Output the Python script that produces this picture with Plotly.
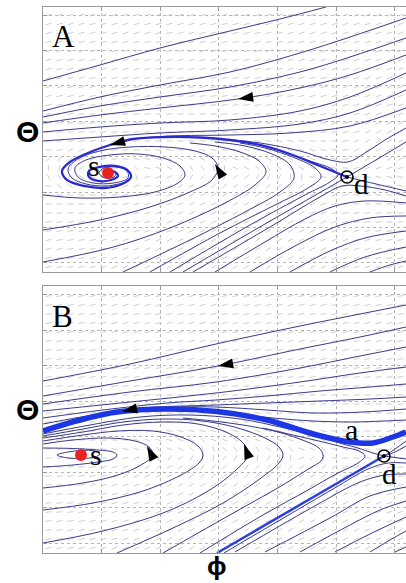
import numpy as np
import plotly.graph_objects as go

# ---------------- Panel A streamlines (phi, theta in plot units) ----------------
A_U1 = [(0,191),(57,207),(117,224),(187,241),(237,253),(283,265)]
A_U2 = [(0,161),(57,175),(117,187),(187,200),(257,219),(307,235),(363,254)]
A_U3 = [(0,155),(57,166),(117,175),(187,185),(257,200),(307,215),(363,234)]
A_U4 = [(0,149),(57,157),(117,164),(195,173),(257,184),(307,197),(363,217)]
A_U5 = [(0,140),(57,145),(117,149),(187,152),(257,161),(307,175),(363,199)]
A_U6 = [(0,131),(57,135),(117,139),(187,142),(257,148),(307,159),(363,182)]
A_U7 = [(87,133),(127,136),(187,137),(247,139),(307,146),(363,164)]
A_U8 = [(363,144),(342,132),(322,119),(305,110),(287,112),(257,121),(217,129),(177,133)]
A_E1 = [(0,42),(57,52),(107,65),(147,80),(169,92),(175,104),(169,114),(152,121),(122,125),
        (87,125),(57,121),(35,113),(25,103),(29,94),(43,88),(63,86),(80,89)]
A_E2 = [(0,77),(37,74),(77,75),(112,80),(135,89),(142,97),(137,106),(120,114),(95,118),(67,117),
        (43,112),(32,104),(35,95),(50,89),(71,89),(85,94),(84,101),(73,105),(61,104),(56,99),
        (62,94),(71,95),(73,98)]
A_V1 = [(0,10),(67,24),(127,44),(182,69),(212,87),(223,100),(216,111),(197,120),(172,126),(147,129)]
A_V2 = [(80,0),(147,32),(202,60),(237,80),(251,94),(247,107),(229,118),(202,126),(172,130)]
A_V3 = [(107,0),(177,39),(232,67),(265,84),(278,95),(272,104),(252,114),(222,124),(197,129)]
A_S3 = [(127,0),(207,47),(262,77),(287,90),(295,97),(289,103),(267,111),(237,121)]
A_S1 = [(140,0),(222,48),(304,95),(363,130)]
A_S2 = [(150,0),(227,45),(277,75),(299,86),(317,86),(342,82),(363,76)]
A_R1 = [(304,95),(333,88),(363,81)]
A_W1 = [(172,0),(222,30),(262,53),(292,66),(322,71),(363,69)]
A_W2 = [(207,0),(252,26),(292,45),(327,54),(363,56)]
A_W3 = [(247,0),(287,21),(322,34),(363,41)]
A_W4 = [(287,0),(322,15),(363,25)]
A_W5 = [(327,0),(347,7),(363,11)]
A_THICK = [(304,95),(277,106),(247,118),(217,127),(187,132),(157,134.5),(123,135),(90,133),(67,127),
           (45,119),(27,110),(19,101),(24,92),(41,86),(62,84),(79,88),(88,95),(84,102),(72,106),
           (57,105),(46,101),(46,95),(55,91),(68,92),(75,96),(72,100),(66,101)]

A_ARROW_X = [195, 67, 172]
A_ARROW_Y = [173, 127, 108]
A_ARROW_ANG = [262, 255, 329]
A_SINK = (65, 99)
A_SADDLE = (304, 95)

# ---------------- Panel B streamlines ----------------
B_BU1 = [(0,172),(87,189),(173,209),(257,227),(317,239),(363,248)]
B_BU2 = [(0,157),(87,172),(175,187),(257,204),(317,216),(363,226)]
B_BU3 = [(0,149),(87,161),(173,171),(257,185),(317,197),(363,206)]
B_BU4 = [(0,142),(87,151),(173,160),(257,171),(317,180),(363,186)]
B_BU5 = [(0,135),(60,143),(124,150),(173,153),(224,157),(277,162),(327,166),(363,169)]
B_BU6 = [(0,129),(50,138),(100,145),(173,148),(224,150),(277,152),(327,154),(363,156)]
B_BU7 = [(130,146),(173,146),(224,143),(270,140),(320,141),(363,144)]
B_BU8 = [(190,140),(230,135),(270,132),(310,131),(340,132),(363,133)]
B_N1 = [(341,97),(330,100),(315,105),(300,109),(277,116),(237,126),(197,134),(147,138),(97,136),(47,128),(0,119)]
B_O1 = [(14,98),(25,101),(38,102.5),(52,102),(57,99),(52,96),(38,94.5),(25,95),(14,98)]
B_O2 = [(0,86),(30,88),(55,91),(70,94),(74,98),(70,101),(55,103),(30,104.5),(0,105)]
B_O3 = [(0,65),(40,70),(75,78),(98,88),(110,98),(106,106),(92,112),(65,115),(30,113),(0,109)]
B_O4 = [(0,43),(50,50),(100,62),(138,78),(156,90),(160,98),(155,107),(138,116),(110,122),(75,122),(40,118),(0,112)]
B_O5 = [(0,10),(60,22),(120,40),(165,62),(193,83),(205,98),(201,109),(185,120),(155,129),(120,131),(80,128),(40,121),(0,115)]
B_O6 = [(74,0),(130,25),(180,50),(218,75),(236,90),(240,98),(236,106),(222,115),(195,125),(160,132),(120,134),(80,131),(40,124),(0,117)]
B_O7 = [(120,0),(185,37),(238,67),(267,85),(278,92),(280,98),(276,105),(262,112),(235,121),(200,128),(170,132),(140,135)]
B_O8 = [(157,0),(220,38),(265,63),(295,80),(315,90),(322,97),(316,102),(300,106),(280,111),(250,118),(220,125)]
B_S2 = [(181,0),(290,64),(325,84),(345,90),(363,90)]
B_R1 = [(341,97),(352,95.5),(363,94)]
B_UB1 = [(341,97),(352,104),(363,112)]
B_UB2 = [(341,97),(352,101),(363,107)]
B_W1 = [(192,1),(277,50),(317,71),(342,78),(363,79)]
B_W2 = [(222,1),(287,35),(327,57),(363,66)]
B_W3 = [(257,1),(307,28),(337,43),(363,52)]
B_W4 = [(292,1),(327,19),(363,36)]
B_W5 = [(327,1),(347,13),(363,22)]
B_W6 = [(352,1),(363,6)]
B_STABLE = [(174,0),(341,97)]
B_THICK = [(0,122),(37,133),(74,141),(124,144),(174,141.5),(224,133),(274,118),(307,111),(330,110),(350,116),(363,121)]

B_ARROW_X = [175, 79, 104, 201]
B_ARROW_Y = [187, 141.5, 107, 109]
B_ARROW_ANG = [260, 258, 333, 340]
B_SINK = (38, 98)
B_SADDLE = (341, 97)

A_THIN = [A_U1, A_U2, A_U3, A_U4, A_U5, A_U6, A_U7, A_U8, A_E1, A_E2, A_V1, A_V2, A_V3,
          A_S3, A_S1, A_S2, A_R1, A_W1, A_W2, A_W3, A_W4, A_W5]
B_THIN = [B_BU1, B_BU2, B_BU3, B_BU4, B_BU5, B_BU6, B_BU7, B_BU8, B_N1, B_O1, B_O2, B_O3,
          B_O4, B_O5, B_O6, B_O7, B_O8, B_S2, B_R1, B_UB1, B_UB2, B_W1, B_W2, B_W3, B_W4, B_W5, B_W6]

X_MAX = 363
A_Y_MAX = 265
B_Y_MAX = 267

THIN = "#3a3a8a"
fig = go.Figure()


def densify(pts, n=5):
    p = np.asarray(pts, float)
    out = [p[0]]
    for a, b in zip(p[:-1], p[1:]):
        for k in range(1, n + 1):
            out.append(a + (b - a) * k / n)
    return np.array(out)


def dash_field(curves, ymax, sx=11.0, sy=9.0, length=6.0, sigma=7.0):
    As, Bs = [], []
    for c in curves:
        p = densify(c)
        As.append(p[:-1]); Bs.append(p[1:])
    A = np.vstack(As); B = np.vstack(Bs)
    D = B - A
    L2 = (D ** 2).sum(1)
    k = L2 > 1e-9
    A, D, L2 = A[k], D[k], L2[k]
    ang2 = 2 * np.arctan2(D[:, 1], D[:, 0])
    gx, gy = np.meshgrid(np.arange(sx / 2, X_MAX - 2, sx), np.arange(5, ymax - 3, sy))
    G = np.stack([gx.ravel(), gy.ravel()], 1)
    rel = G[:, None, :] - A[None]
    t = np.clip((rel * D[None]).sum(2) / L2[None], 0, 1)
    proj = A[None] + t[..., None] * D[None]
    d2 = ((G[:, None, :] - proj) ** 2).sum(2)
    w = np.exp(-(d2 - d2.min(1, keepdims=True)) / (2 * sigma ** 2))
    c = (w * np.cos(ang2)[None]).sum(1)
    s = (w * np.sin(ang2)[None]).sum(1)
    th = 0.5 * np.arctan2(s, c)
    xs, ys = [], []
    h = length / 2
    for (x0, y0), a in zip(G, th):
        xs += [x0 - h * np.cos(a), x0 + h * np.cos(a), None]
        ys += [y0 - h * np.sin(a), y0 + h * np.sin(a), None]
    return xs, ys


def add_curve(pts, xa, ya, color=THIN, width=1.0):
    p = np.asarray(pts, float)
    fig.add_trace(go.Scatter(x=p[:, 0], y=p[:, 1], mode="lines",
                             line=dict(color=color, width=width, shape="spline", smoothing=1.0),
                             xaxis=xa, yaxis=ya, hoverinfo="skip", showlegend=False))


for curves, thick_list, ymax, xa, ya in [
        (A_THIN, [A_THICK], A_Y_MAX, "x", "y"),
        (B_THIN, [B_THICK, B_STABLE], B_Y_MAX, "x2", "y2")]:
    dx, dy = dash_field(curves + thick_list, ymax)
    fig.add_trace(go.Scatter(x=dx, y=dy, mode="lines", line=dict(color="#c8c8c8", width=0.9),
                             xaxis=xa, yaxis=ya, hoverinfo="skip", showlegend=False))
    for c in curves:
        add_curve(c, xa, ya)

add_curve(A_THICK, "x", "y", color="#2a2ad2", width=2.3)
add_curve(B_STABLE, "x2", "y2", color="#2a3de2", width=2.4)
add_curve(B_THICK, "x2", "y2", color="#1d36e4", width=5.5)

for ax, ay, ang, sink, saddle, xa, ya in [
        (A_ARROW_X, A_ARROW_Y, A_ARROW_ANG, A_SINK, A_SADDLE, "x", "y"),
        (B_ARROW_X, B_ARROW_Y, B_ARROW_ANG, B_SINK, B_SADDLE, "x2", "y2")]:
    fig.add_trace(go.Scatter(x=ax, y=ay, mode="markers", xaxis=xa, yaxis=ya,
                             marker=dict(symbol="arrow", size=16, angle=ang, color="black",
                                         line=dict(width=0)),
                             hoverinfo="skip", showlegend=False))
    fig.add_trace(go.Scatter(x=[sink[0]], y=[sink[1]], mode="markers", xaxis=xa, yaxis=ya,
                             marker=dict(symbol="circle", size=12, color="#e8231e", line=dict(width=0)),
                             hoverinfo="skip", showlegend=False))
    fig.add_trace(go.Scatter(x=[saddle[0]], y=[saddle[1]], mode="markers", xaxis=xa, yaxis=ya,
                             marker=dict(symbol="circle-open", size=12, color="black", line=dict(width=1.6)),
                             hoverinfo="skip", showlegend=False))
    fig.add_trace(go.Scatter(x=[saddle[0]], y=[saddle[1]], mode="markers", xaxis=xa, yaxis=ya,
                             marker=dict(symbol="circle", size=4, color="black"),
                             hoverinfo="skip", showlegend=False))

SERIF = "Liberation Serif, Times New Roman, serif"
SANS = "Liberation Sans, Arial, sans-serif"
annots = [
    dict(text="A", x=20, y=236, xref="x", yref="y", font=dict(family=SERIF, size=31)),
    dict(text="s", x=51, y=106, xref="x", yref="y", font=dict(family=SERIF, size=30)),
    dict(text="d", x=318, y=88, xref="x", yref="y", font=dict(family=SERIF, size=29)),
    dict(text="B", x=19, y=237, xref="x2", yref="y2", font=dict(family=SERIF, size=31)),
    dict(text="s", x=53, y=99, xref="x2", yref="y2", font=dict(family=SERIF, size=30)),
    dict(text="d", x=346, y=79, xref="x2", yref="y2", font=dict(family=SERIF, size=29)),
    dict(text="a", x=308, y=124, xref="x2", yref="y2", font=dict(family=SERIF, size=30)),
    dict(text="<b>Θ</b>", x=-0.044, y=0.772, xref="paper", yref="paper", font=dict(family=SANS, size=30)),
    dict(text="<b>Θ</b>", x=-0.044, y=0.262, xref="paper", yref="paper", font=dict(family=SANS, size=30)),
    dict(text="<b>ϕ</b>", x=0.479, y=-0.024, xref="paper", yref="paper", font=dict(family=SANS, size=26)),
]
for a in annots:
    a.update(showarrow=False, xanchor="center", yanchor="middle")
    a["font"]["color"] = "black"

common = dict(showticklabels=False, ticks="inside", ticklen=4, tickcolor="#999999",
              showline=True, linecolor="#9a9a9a", linewidth=1, showgrid=True,
              gridcolor="#b4b4b4", griddash="dot", gridwidth=1, zeroline=False, fixedrange=True)

fig.update_layout(
    width=406, height=583, margin=dict(l=43, r=0, t=7, b=30),
    paper_bgcolor="white", plot_bgcolor="white", showlegend=False,
    annotations=annots,
    xaxis=dict(domain=[0, 1], range=[0, X_MAX], tick0=58.6, dtick=58.6, anchor="y", mirror="ticks", **common),
    yaxis=dict(domain=[0.5147, 1], range=[0, A_Y_MAX], tick0=9, dtick=35.4, anchor="x", mirror=False, **common),
    xaxis2=dict(domain=[0, 1], range=[0, X_MAX], tick0=58.6, dtick=58.6, anchor="y2", mirror="ticks", **common),
    yaxis2=dict(domain=[0, 0.489], range=[0, B_Y_MAX], tick0=9.7, dtick=35.5, anchor="x2", mirror=False, **common),
)

fig.write_html("out.html")
